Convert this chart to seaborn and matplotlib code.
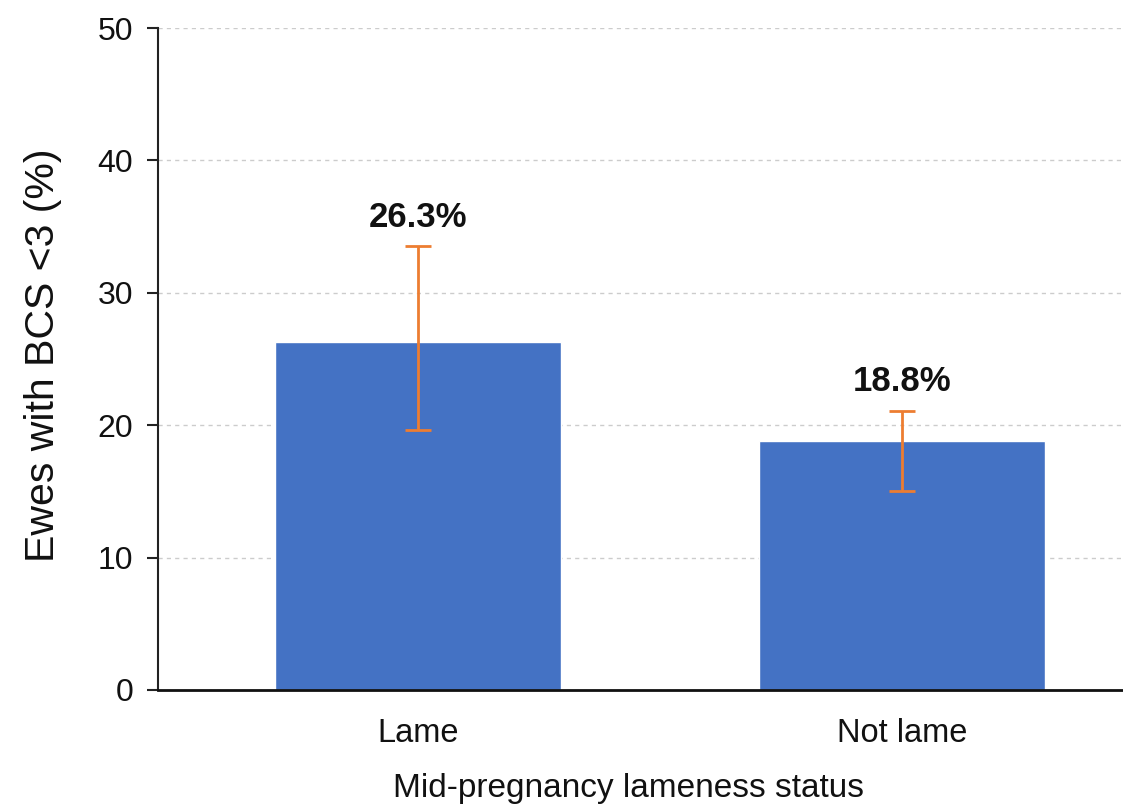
import matplotlib
matplotlib.use("Agg")
import matplotlib.pyplot as plt
import seaborn as sns
import pandas as pd
import numpy as np

# Share of ewes with body condition score below 3, by lameness status
status = ["Lame", "Not lame"]
pct = [26.3, 18.8]
ci_low = [19.6, 15.0]
ci_high = [33.5, 21.1]
value_labels = ["26.3%", "18.8%"]

df = pd.DataFrame({"status": status, "pct": pct})

sns.set_theme(style="white")
plt.rcParams["font.family"] = ["Liberation Sans", "DejaVu Sans"]

fig = plt.figure(figsize=(11.23, 8.07), dpi=100)
ax = fig.add_axes([0.1407, 0.145, 0.8593, 0.8203])

sns.barplot(data=df, x="status", y="pct", color="#4472C4", saturation=1,
            width=0.59, errorbar=None, ax=ax, zorder=2)

xs = np.arange(len(status))
lo = np.array(pct) - np.array(ci_low)
hi = np.array(ci_high) - np.array(pct)
ax.errorbar(xs, pct, yerr=[lo, hi], fmt="none", ecolor="#ED7D31",
            elinewidth=2, capsize=9.7, capthick=2, zorder=3)

for x, top, lab in zip(xs, ci_high, value_labels):
    ax.text(x, top + 1.45, lab, ha="center", va="baseline",
            fontsize=25, fontweight="bold", color="#111111")

ax.set_ylim(0, 50)
ax.set_xlim(-0.537, 1.457)
ax.set_yticks([0, 10, 20, 30, 40, 50])
ax.yaxis.grid(True, linestyle=(0, (3, 3)), color="#cccccc", linewidth=1)
ax.set_axisbelow(True)

for s in ["top", "right"]:
    ax.spines[s].set_visible(False)
ax.spines["left"].set_color("#222222")
ax.spines["left"].set_linewidth(1.5)
ax.spines["bottom"].set_color("#111111")
ax.spines["bottom"].set_linewidth(2)

ax.tick_params(axis="y", left=True, length=8, width=1.5, color="#222222",
               labelsize=23, pad=10, labelcolor="#111111")
ax.tick_params(axis="x", bottom=False, labelsize=23.5, pad=14, labelcolor="#111111")

ax.set_xlabel("Mid-pregnancy lameness status", fontsize=24, color="#111111")
ax.set_ylabel("Ewes with BCS <3 (%)", fontsize=29.5, color="#111111")
ax.xaxis.set_label_coords(0.488, -0.126)
ax.yaxis.set_label_coords(-0.0995, 0.506)

fig.savefig("out.png", dpi=100, facecolor="white")
